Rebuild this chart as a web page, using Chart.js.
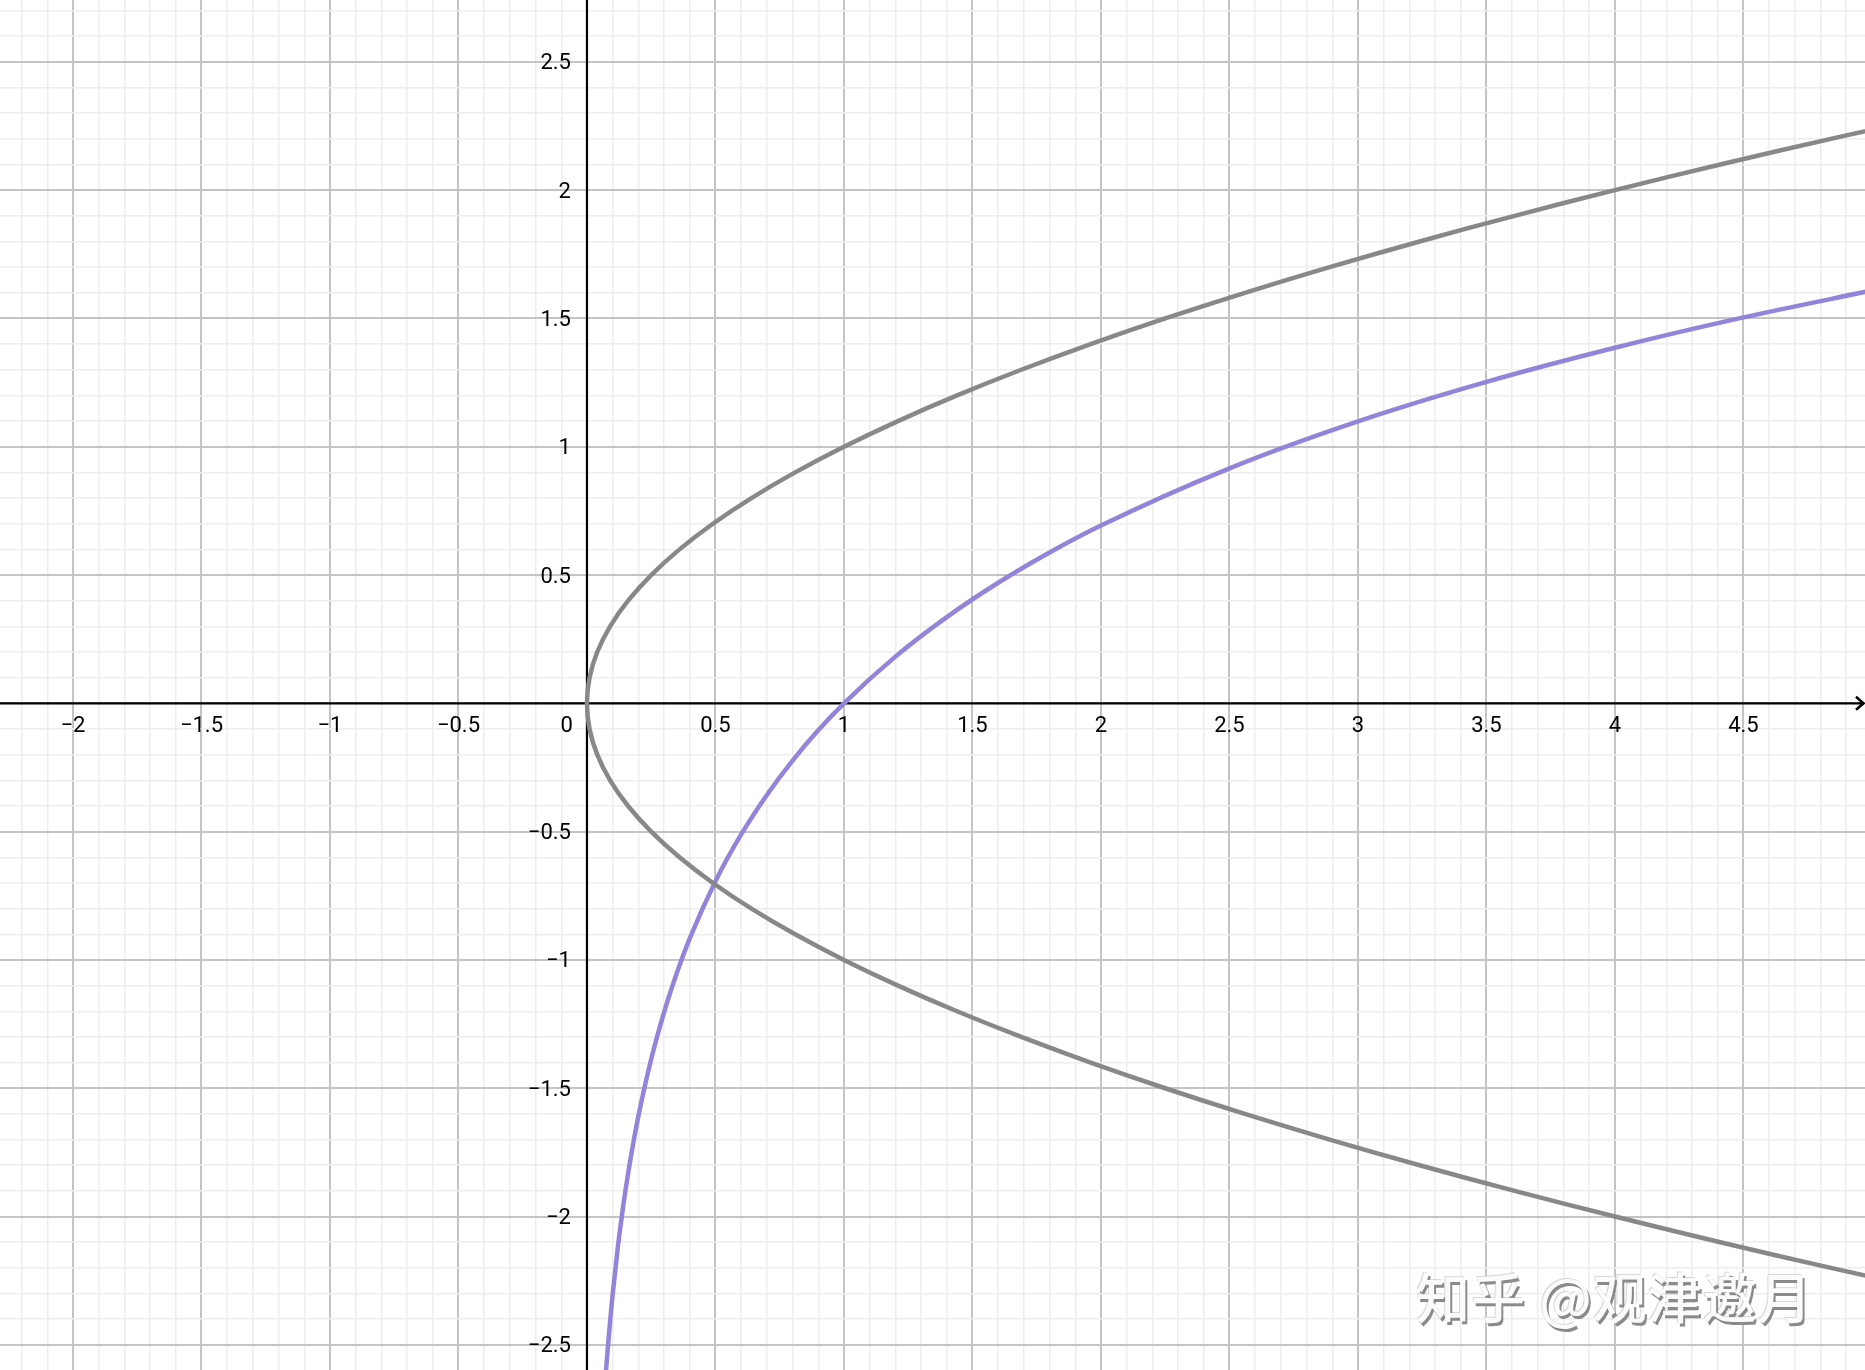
<!DOCTYPE html>
<html>
<head>
<meta charset="utf-8">
<script src="https://cdn.jsdelivr.net/npm/chart.js@4.4.1/dist/chart.umd.min.js"></script>
<style>
  html, body { margin: 0; padding: 0; background: #fff; overflow: hidden; }
  #wrap { position: relative; width: 1865px; height: 1370px; }
  #plot { display: block; }
  #mark {
    position: absolute; left: 1416px; top: 1256px;
    font-family: "Noto Sans CJK SC", sans-serif; font-size: 54px; font-weight: 500;
    color: #fbfbfb; letter-spacing: 1px; white-space: nowrap;
    text-shadow: 2px 3px 0 #8a8a8a, -1px -1px 0 #d8d8d8;
  }
</style>
</head>
<body>
<div id="wrap">
  <canvas id="plot" width="1865" height="1370"></canvas>
  <div id="mark">知乎 @观津邀月</div>
</div>
<script>
// visible window
const xRange = [-2.284, 4.973];
const yRange = [-2.598, 2.741];

// axis tick labels
const xTickValues = [-2, -1.5, -1, -0.5, 0.5, 1, 1.5, 2, 2.5, 3, 3.5, 4, 4.5];
const xTickLabels = ["−2", "−1.5", "−1", "−0.5", "0.5", "1", "1.5", "2", "2.5", "3", "3.5", "4", "4.5"];
const yTickValues = [-2.5, -2, -1.5, -1, -0.5, 0.5, 1, 1.5, 2, 2.5];
const yTickLabels = ["−2.5", "−2", "−1.5", "−1", "−0.5", "0.5", "1", "1.5", "2", "2.5"];

// grey curve (sideways parabola)
const greyY = [-2.3, -2.2, -2.1, -2.0, -1.9, -1.8, -1.7, -1.6, -1.5, -1.4, -1.3, -1.2, -1.1, -1.0,
  -0.9, -0.8, -0.7, -0.6, -0.5, -0.4, -0.3, -0.2, -0.1, 0,
  0.1, 0.2, 0.3, 0.4, 0.5, 0.6, 0.7, 0.8, 0.9, 1.0,
  1.1, 1.2, 1.3, 1.4, 1.5, 1.6, 1.7, 1.8, 1.9, 2.0, 2.1, 2.2, 2.3];
const greyX = [5.29, 4.84, 4.41, 4.0, 3.61, 3.24, 2.89, 2.56, 2.25, 1.96, 1.69, 1.44, 1.21, 1.0,
  0.81, 0.64, 0.49, 0.36, 0.25, 0.16, 0.09, 0.04, 0.01, 0,
  0.01, 0.04, 0.09, 0.16, 0.25, 0.36, 0.49, 0.64, 0.81, 1.0,
  1.21, 1.44, 1.69, 1.96, 2.25, 2.56, 2.89, 3.24, 3.61, 4.0, 4.41, 4.84, 5.29];

// purple curve, points
const purpleX = [0.07, 0.075, 0.08, 0.09, 0.1, 0.12, 0.14, 0.16, 0.18, 0.2, 0.25, 0.3, 0.35, 0.4,
  0.5, 0.6, 0.7, 0.8, 0.9, 1.0, 1.2, 1.4, 1.6, 1.8, 2.0, 2.5, 3.0, 3.5, 4.0, 4.5, 5.0];
const purpleY = [-2.659, -2.59, -2.526, -2.408, -2.303, -2.12, -1.966, -1.833, -1.715, -1.609, -1.386, -1.204, -1.05, -0.916,
  -0.693, -0.511, -0.357, -0.223, -0.105, 0, 0.182, 0.336, 0.47, 0.588, 0.693, 0.916, 1.099, 1.253, 1.386, 1.504, 1.609];

const majorGrid = "#c4c4c4";
const minorGrid = "#ededed";
const labelFont = '22px Roboto, "Noto Sans", sans-serif';

function zip(xs, ys) {
  return xs.map((x, i) => ({ x: x, y: ys[i] }));
}

// grid every 0.1, heavier every 0.5
function tenthTicks(scale) {
  const ticks = [];
  for (let i = Math.ceil(scale.min * 10); i <= Math.floor(scale.max * 10); i++) {
    ticks.push({ value: i / 10 });
  }
  scale.ticks = ticks;
}
function isMajor(ctx) {
  return ctx.tick && Math.round(ctx.tick.value * 10) % 5 === 0;
}

const gridOpts = {
  drawTicks: false,
  color: (ctx) => (isMajor(ctx) ? majorGrid : minorGrid),
  lineWidth: (ctx) => (isMajor(ctx) ? 2 : 1.5),
};

// axes through the origin, arrow and number labels
const axesPlugin = {
  id: "axesPlugin",
  beforeDatasetsDraw(chart) {
    const ctx = chart.ctx;
    const xs = chart.scales.x;
    const ys = chart.scales.y;
    const ox = xs.getPixelForValue(0);
    const oy = ys.getPixelForValue(0);
    const area = chart.chartArea;
    ctx.save();
    ctx.strokeStyle = "#000";
    ctx.lineWidth = 2.2;
    ctx.beginPath();
    ctx.moveTo(area.left, oy);
    ctx.lineTo(area.right - 1, oy);
    ctx.moveTo(ox, area.top);
    ctx.lineTo(ox, area.bottom);
    ctx.stroke();
    // arrow head at the right end
    ctx.lineWidth = 2.6;
    ctx.beginPath();
    ctx.moveTo(area.right - 9, oy - 6.5);
    ctx.lineTo(area.right - 1.5, oy);
    ctx.lineTo(area.right - 9, oy + 6.5);
    ctx.stroke();

    ctx.fillStyle = "#000";
    ctx.font = labelFont;
    ctx.textAlign = "center";
    ctx.textBaseline = "alphabetic";
    xTickValues.forEach((v, i) => {
      ctx.fillText(xTickLabels[i], xs.getPixelForValue(v), oy + 29);
    });
    ctx.textAlign = "right";
    ctx.fillText("0", ox - 14, oy + 29);
    ctx.textBaseline = "middle";
    yTickValues.forEach((v, i) => {
      ctx.fillText(yTickLabels[i], ox - 16, ys.getPixelForValue(v) + 2);
    });
    ctx.restore();
  },
};

const chart = new Chart(document.getElementById("plot"), {
  type: "scatter",
  data: {
    datasets: [
      {
        label: "grey",
        data: zip(greyX, greyY),
        showLine: true,
        borderColor: "#888888",
        borderWidth: 4.5,
        pointRadius: 0,
        tension: 0.4,
        borderCapStyle: "round",
      },
      {
        label: "purple",
        data: zip(purpleX, purpleY),
        showLine: true,
        borderColor: "#9383da",
        borderWidth: 4.5,
        pointRadius: 0,
        cubicInterpolationMode: "monotone",
        borderCapStyle: "round",
      },
    ],
  },
  options: {
    responsive: false,
    animation: false,
    devicePixelRatio: 1,
    layout: { padding: 0 },
    plugins: {
      legend: { display: false },
      tooltip: { enabled: false },
    },
    scales: {
      x: {
        type: "linear",
        min: xRange[0],
        max: xRange[1],
        afterBuildTicks: tenthTicks,
        ticks: { display: false, autoSkip: false },
        grid: gridOpts,
        border: { display: false },
      },
      y: {
        type: "linear",
        min: yRange[0],
        max: yRange[1],
        afterBuildTicks: tenthTicks,
        ticks: { display: false, autoSkip: false },
        grid: gridOpts,
        border: { display: false },
      },
    },
  },
  plugins: [axesPlugin],
});
</script>
</body>
</html>
